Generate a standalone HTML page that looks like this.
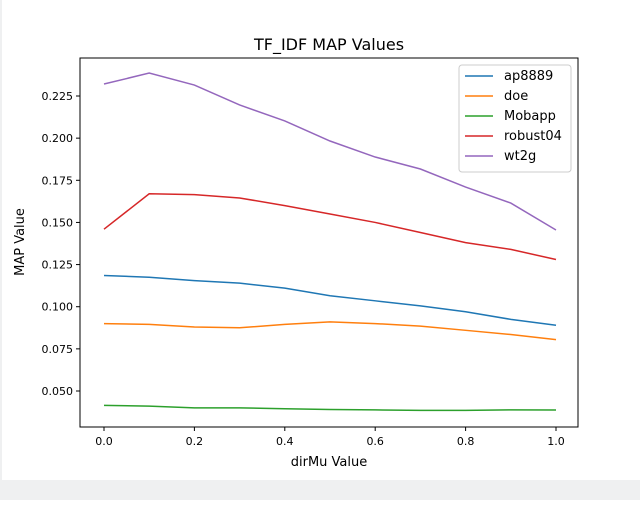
<!DOCTYPE html>
<html><head><meta charset="utf-8"><style>
body{margin:0;background:#fff;}
svg text{font-family:"DejaVu Sans","Liberation Sans",sans-serif;}
</style></head><body>
<svg width="640" height="500" viewBox="0 0 640 500" id="chart">
<rect x="0" y="0" width="640" height="500" fill="#fff"/>
<rect x="0" y="480" width="640" height="20" fill="#eff0f1"/>
<rect x="0" y="0" width="2" height="480" fill="#eff0f1"/>
<text x="329" y="50" font-size="16" text-anchor="middle">TF_IDF MAP Values</text>
<text x="329" y="466" font-size="13" text-anchor="middle">dirMu Value</text>
<text x="24" y="242" font-size="13" text-anchor="middle" transform="rotate(-90 24 242)">MAP Value</text>
<g id="plot"></g>
<rect x="80" y="58" width="498" height="369" fill="none" stroke="#000" stroke-width="1"/>
</svg>
<script>
const xs=[0,0.1,0.2,0.3,0.4,0.5,0.6,0.7,0.8,0.9,1.0];
const names=["ap8889","doe","Mobapp","robust04","wt2g"];
const colors=["#1f77b4","#ff7f0e","#2ca02c","#d62728","#9467bd"];
const ap8889=[0.1185,0.1175,0.1155,0.114,0.111,0.1065,0.1035,0.1005,0.097,0.0925,0.089];
const doe=[0.090,0.0895,0.088,0.0875,0.0895,0.091,0.090,0.0885,0.086,0.0835,0.0805];
const mobapp=[0.0415,0.041,0.040,0.040,0.0395,0.039,0.0388,0.0385,0.0385,0.0388,0.0387];
const robust04=[0.146,0.167,0.1665,0.1645,0.160,0.155,0.150,0.144,0.138,0.134,0.128];
const wt2g=[0.2321,0.2386,0.2315,0.2197,0.2102,0.1983,0.1888,0.1817,0.171,0.1615,0.1455];
const xTicks=[0,0.2,0.4,0.6,0.8,1.0];
const xTickLabels=["0.0","0.2","0.4","0.6","0.8","1.0"];
const yTicks=[0.05,0.075,0.1,0.125,0.15,0.175,0.2,0.225];
const yTickLabels=["0.050","0.075","0.100","0.125","0.150","0.175","0.200","0.225"];
const series=[ap8889,doe,mobapp,robust04,wt2g];
const X=v=>104+v*452;
const Y=v=>391-(v-0.05)*1685.7;
const NS="http://www.w3.org/2000/svg";
const g=document.getElementById('plot');
function mk(t,a){const e=document.createElementNS(NS,t);for(const k in a)e.setAttribute(k,a[k]);g.appendChild(e);return e;}
xTicks.forEach((t,i)=>{
 const l=mk('line',{x1:X(t),x2:X(t),y1:427,y2:431,stroke:'#000'});
 
 
 const tx=mk('text',{x:X(t),y:445,'font-size':11,'text-anchor':'middle'});tx.textContent=xTickLabels[i];
 
 
});
yTicks.forEach((t,i)=>{
 const l=mk('line',{x1:76,x2:80,y1:Y(t),y2:Y(t),stroke:'#000'});
 
 
 const tx=mk('text',{x:73,y:Y(t)+4,'font-size':11,'text-anchor':'end'});tx.textContent=yTickLabels[i];
 
 
});
series.forEach((s,i)=>{
 const p=mk('polyline',{points:s.map((v,j)=>X(xs[j])+','+Y(v)).join(' '),fill:'none',stroke:colors[i],'stroke-width':1.5});
 
 
});
const lg=mk('rect',{x:459,y:65,width:112,height:107,fill:'#fff',stroke:'#ccc',rx:3});


names.forEach((n,i)=>{
 const y=76+i*20;
 const l=mk('line',{x1:465,x2:493,y1:y,y2:y,stroke:colors[i],'stroke-width':1.5});
 
 
 const t=mk('text',{x:504,y:y+4,'font-size':13});t.textContent=n;
 
 
});
</script>
</body></html>
